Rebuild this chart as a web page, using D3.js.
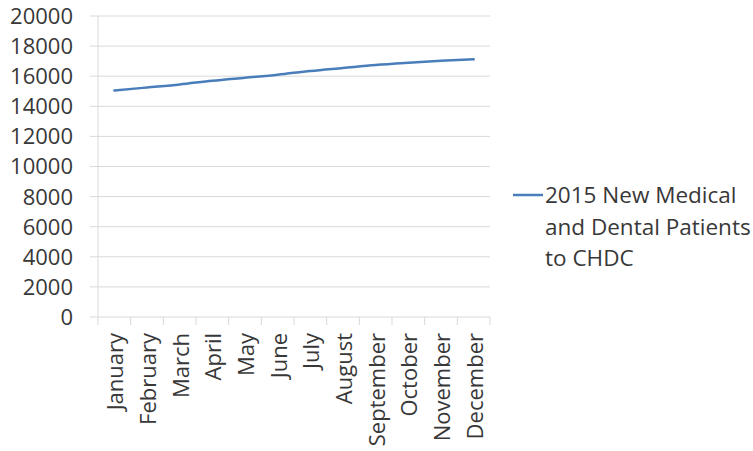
<!DOCTYPE html>
<html><head><meta charset="utf-8">
<script src="https://cdn.jsdelivr.net/npm/d3@7"></script>
<style>body{margin:0;background:#fff;}svg{display:block;}</style>
</head><body>
<svg id="chart" width="753" height="451"></svg>
<script>
const months = ["January","February","March","April","May","June","July","August","September","October","November","December"];
const patients = [15050, 15250, 15450, 15700, 15900, 16100, 16350, 16550, 16750, 16900, 17030, 17120];
const yTicks = [0,2000,4000,6000,8000,10000,12000,14000,16000,18000,20000];
const seriesName = ["2015 New Medical", "and Dental Patients", "to CHDC"];

const svg = d3.select("#chart");
const font = "'Open Sans', sans-serif";
const textColor = "#383838";
const plotLeft = 98, plotRight = 490, plotTop = 16, plotBottom = 317;

const x = d3.scaleBand().domain(months).range([plotLeft, plotRight]);
const y = d3.scaleLinear().domain([0, 20000]).range([plotBottom, plotTop]);

// gridlines
svg.append("g").selectAll("line").data(yTicks).join("line")
  .attr("x1", plotLeft - 8).attr("x2", plotRight)
  .attr("y1", d => y(d)).attr("y2", d => y(d))
  .attr("stroke", "#d9d9d9").attr("stroke-width", 1);

// y axis line
svg.append("line").attr("x1", plotLeft).attr("x2", plotLeft).attr("y1", plotTop).attr("y2", plotBottom)
  .attr("stroke", "#d9d9d9");

// y labels
svg.append("g").selectAll("text").data(yTicks).join("text")
  .attr("x", 73).attr("y", d => y(d)).attr("dy", "0.36em")
  .attr("text-anchor", "end").attr("font-family", font).attr("font-size", 22)
  .attr("fill", textColor).text(d => d);

// x ticks
const tickPos = months.map(m => x(m)).concat([plotRight]);
svg.append("g").selectAll("line").data(tickPos).join("line")
  .attr("x1", d => d).attr("x2", d => d).attr("y1", plotBottom).attr("y2", plotBottom + 8)
  .attr("stroke", "#d9d9d9");

// x labels
svg.append("g").selectAll("text").data(months).join("text")
  .attr("transform", d => `translate(${x(d) + x.bandwidth()/2 + 1},333) rotate(-90)`)
  .attr("dy", "0.36em").attr("text-anchor", "end")
  .attr("font-family", font).attr("font-size", 22).attr("fill", textColor)
  .text(d => d);

// line
const line = d3.line().x((d, i) => x(months[i]) + x.bandwidth()/2).y(d => y(d)).curve(d3.curveMonotoneX);
svg.append("path").datum(patients).attr("d", line)
  .attr("fill", "none").attr("stroke", "#4a7ebb").attr("stroke-width", 2.5)
  .attr("stroke-linecap", "round");

// legend
svg.append("line").attr("x1", 513).attr("x2", 543).attr("y1", 195).attr("y2", 195)
  .attr("stroke", "#4a7ebb").attr("stroke-width", 2.5);
svg.append("g").selectAll("text").data(seriesName).join("text")
  .attr("x", 545).attr("y", (d, i) => 195 + i * 31.5).attr("dy", "0.36em")
  .attr("font-family", font).attr("font-size", 22.5).attr("fill", textColor)
  .text(d => d);
</script>
</body></html>
